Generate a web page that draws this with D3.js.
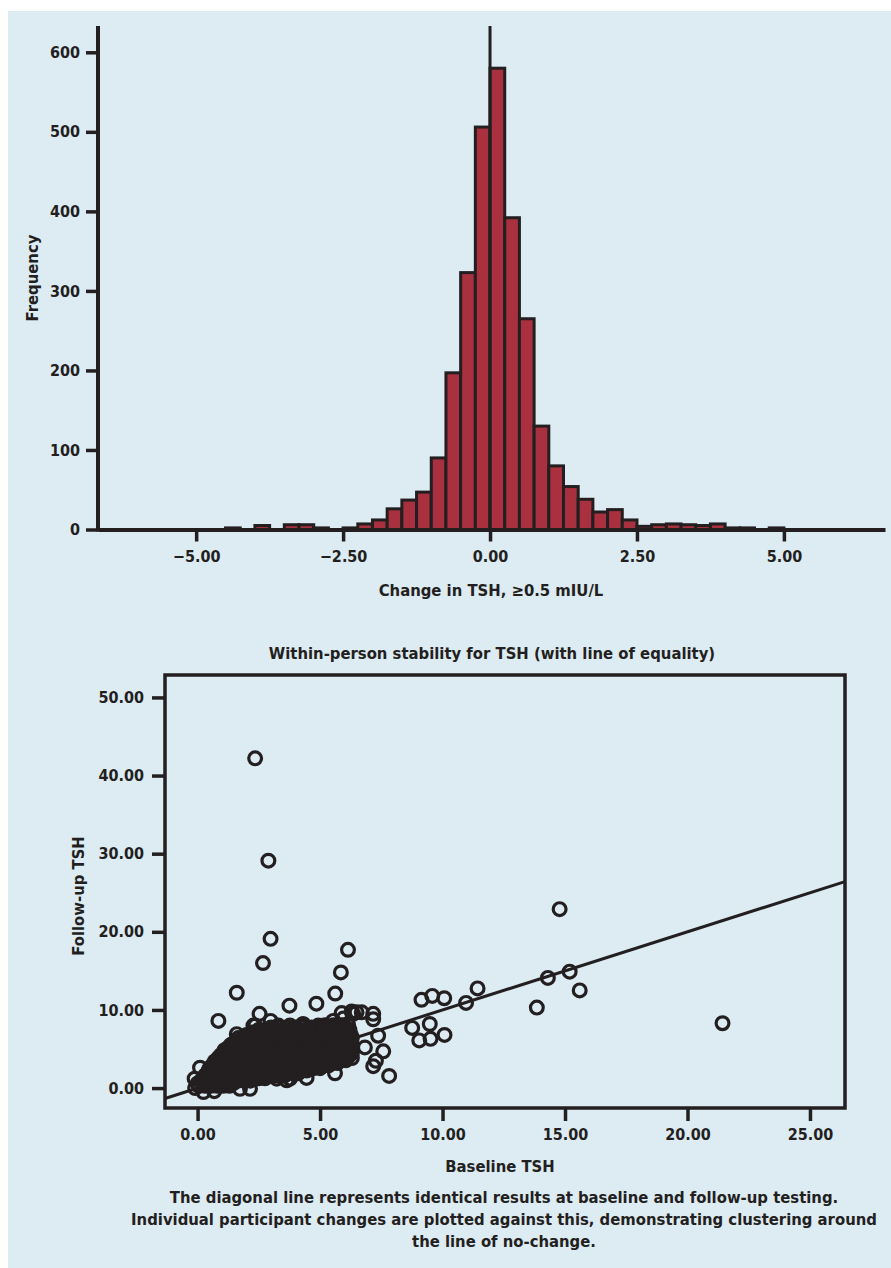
<!DOCTYPE html>
<html>
<head>
<meta charset="utf-8">
<script src="https://cdn.jsdelivr.net/npm/d3@7"></script>
<style>
  body { margin: 0; background: #fff; }
  svg text { font-family: "DejaVu Sans Condensed", "DejaVu Sans", sans-serif; font-weight: bold; fill: #231f20; }
  .axis path, .axis line { stroke: #231f20; }
</style>
</head>
<body>
<svg width="891" height="1268"></svg>
<script>
// histogram: change in TSH, bins of 0.25 (left edge, count)
var binWidth = 0.25;
var binStarts = [-4.5, -4.25, -4.0, -3.75, -3.5, -3.25, -3.0, -2.75, -2.5, -2.25, -2.0, -1.75, -1.5, -1.25,
                 -1.0, -0.75, -0.5, -0.25, 0, 0.25, 0.5, 0.75, 1.0, 1.25, 1.5, 1.75, 2.0, 2.25,
                 2.5, 2.75, 3.0, 3.25, 3.5, 3.75, 4.0, 4.25, 4.5, 4.75];
var binCounts = [2, 0, 5, 0, 6, 6, 2, 0, 2, 7, 12, 26, 37, 47,
                 90, 197, 323, 506, 580, 392, 265, 130, 80, 54, 38, 22, 25, 12,
                 4, 6, 7, 6, 5, 7, 2, 2, 0, 2];
var histXTicks = [-5, -2.5, 0, 2.5, 5];
var histYTicks = [0, 100, 200, 300, 400, 500, 600];

// scatter: baseline vs follow-up TSH, outliers and edge points
var outliers = [
  [2.35, 42.2], [2.89, 29.1], [2.98, 19.1], [2.67, 16.0], [1.6, 12.2], [6.14, 17.7], [5.85, 14.8],
  [5.62, 12.1], [3.75, 10.55], [4.85, 10.8], [0.85, 8.6], [2.53, 9.5], [14.78, 22.9], [14.3, 14.1],
  [15.19, 14.9], [15.6, 12.5], [13.85, 10.3], [21.43, 8.3], [11.43, 12.76], [10.96, 10.9],
  [9.14, 11.3], [9.58, 11.8], [10.07, 11.5], [8.76, 7.7], [9.48, 8.2], [9.05, 6.1], [9.51, 6.3],
  [10.08, 6.8], [7.82, 1.55], [7.17, 2.8], [7.28, 3.5], [7.58, 4.7], [7.37, 6.7], [7.17, 9.5],
  [7.17, 8.8], [6.7, 9.7], [6.35, 9.5], [5.88, 9.6], [6.49, 9.7], [6.29, 9.8], [6.83, 5.2],
  [3.77, 1.2], [4.45, 1.3], [5.61, 1.9], [3.23, 1.2], [3.64, 1.0], [1.73, -0.1], [2.14, -0.1],
  [0.24, -0.5], [0.68, -0.4], [-0.1, 0.0], [-0.12, 1.2], [0.1, 2.6], [0.7, 3.4], [1.26, 5.0],
  [1.6, 6.9], [1.66, 6.4], [2.28, 8.0], [2.98, 8.6], [3.3, 8.0], [3.77, 8.0], [4.28, 8.1],
  [4.93, 8.0], [5.54, 8.6], [5.95, 8.9], [2.35, 8.0], [4.31, 8.2]
];
// dense cluster near the line, row by row (follow-up value, baseline values)
var clusterRows = [
  [0.3,  [0.05, 0.3, 0.55, 0.8, 1.05, 1.3]],
  [0.6,  [0.0, 0.2, 0.45, 0.7, 0.95, 1.2, 1.45]],
  [0.95, [0.15, 0.4, 0.65, 0.9, 1.15, 1.4, 1.65, 1.9, 2.15]],
  [1.25, [0.25, 0.5, 0.75, 1.0, 1.25, 1.5, 1.75, 2.0, 2.25, 2.5, 2.75]],
  [1.6,  [0.3, 0.55, 0.8, 1.05, 1.3, 1.55, 1.8, 2.05, 2.3, 2.55, 2.8, 3.05, 3.3, 3.55]],
  [1.9,  [0.4, 0.65, 0.9, 1.15, 1.4, 1.65, 1.9, 2.15, 2.4, 2.65, 2.9, 3.15, 3.4, 3.65, 3.9, 4.1]],
  [2.25, [0.45, 0.7, 0.95, 1.2, 1.45, 1.7, 1.95, 2.2, 2.45, 2.7, 2.95, 3.2, 3.45, 3.7, 3.95, 4.2, 4.45]],
  [2.55, [0.5, 0.75, 1.0, 1.25, 1.5, 1.75, 2.0, 2.25, 2.5, 2.75, 3.0, 3.25, 3.5, 3.75, 4.0, 4.25, 4.5, 4.75, 5.0]],
  [2.9,  [0.6, 0.85, 1.1, 1.35, 1.6, 1.85, 2.1, 2.35, 2.6, 2.85, 3.1, 3.35, 3.6, 3.85, 4.1, 4.35, 4.6, 4.85, 5.1, 5.35]],
  [3.2,  [0.7, 0.95, 1.2, 1.45, 1.7, 1.95, 2.2, 2.45, 2.7, 2.95, 3.2, 3.45, 3.7, 3.95, 4.2, 4.45, 4.7, 4.95, 5.2, 5.45, 5.7]],
  [3.55, [0.8, 1.05, 1.3, 1.55, 1.8, 2.05, 2.3, 2.55, 2.8, 3.05, 3.3, 3.55, 3.8, 4.05, 4.3, 4.55, 4.8, 5.05, 5.3, 5.55, 5.8, 6.05]],
  [3.85, [0.85, 1.1, 1.35, 1.6, 1.85, 2.1, 2.35, 2.6, 2.85, 3.1, 3.35, 3.6, 3.85, 4.1, 4.35, 4.6, 4.85, 5.1, 5.35, 5.6, 5.85, 6.1, 6.3]],
  [4.2,  [0.95, 1.2, 1.45, 1.7, 1.95, 2.2, 2.45, 2.7, 2.95, 3.2, 3.45, 3.7, 3.95, 4.2, 4.45, 4.7, 4.95, 5.2, 5.45, 5.7, 5.95, 6.2]],
  [4.5,  [1.05, 1.3, 1.55, 1.8, 2.05, 2.3, 2.55, 2.8, 3.05, 3.3, 3.55, 3.8, 4.05, 4.3, 4.55, 4.8, 5.05, 5.3, 5.55, 5.8, 6.05, 6.3]],
  [4.85, [1.1, 1.35, 1.6, 1.85, 2.1, 2.35, 2.6, 2.85, 3.1, 3.35, 3.6, 3.85, 4.1, 4.35, 4.6, 4.85, 5.1, 5.35, 5.6, 5.85, 6.1, 6.3]],
  [5.15, [1.25, 1.5, 1.75, 2.0, 2.25, 2.5, 2.75, 3.0, 3.25, 3.5, 3.75, 4.0, 4.25, 4.5, 4.75, 5.0, 5.25, 5.5, 5.75, 6.0, 6.25]],
  [5.5,  [1.35, 1.6, 1.85, 2.1, 2.35, 2.6, 2.85, 3.1, 3.35, 3.6, 3.85, 4.1, 4.35, 4.6, 4.85, 5.1, 5.35, 5.6, 5.85, 6.1, 6.3]],
  [5.8,  [1.5, 1.75, 2.0, 2.25, 2.5, 2.75, 3.0, 3.25, 3.5, 3.75, 4.0, 4.25, 4.5, 4.75, 5.0, 5.25, 5.5, 5.75, 6.0, 6.25]],
  [6.15, [1.75, 2.0, 2.25, 2.5, 2.75, 3.0, 3.25, 3.5, 3.75, 4.0, 4.25, 4.5, 4.75, 5.0, 5.25, 5.5, 5.75, 6.0, 6.25]],
  [6.45, [1.9, 2.15, 2.4, 2.65, 2.9, 3.15, 3.4, 3.65, 3.9, 4.15, 4.4, 4.65, 4.9, 5.15, 5.4, 5.65, 5.9, 6.15, 6.3]],
  [6.8,  [2.0, 2.25, 2.5, 2.75, 3.0, 3.25, 3.5, 3.75, 4.0, 4.25, 4.5, 4.75, 5.0, 5.25, 5.5, 5.75, 6.0, 6.25]],
  [7.1,  [2.2, 2.45, 2.7, 2.95, 3.2, 3.45, 3.7, 3.95, 4.2, 4.45, 4.7, 4.95, 5.2, 5.45, 5.7, 5.95, 6.2]],
  [7.45, [2.5, 2.85, 3.2, 3.5, 3.8, 4.1, 4.45, 4.8, 5.1, 5.4, 5.7, 6.0, 6.2]],
  [7.75, [3.0, 3.35, 3.65, 4.0, 4.3, 4.65, 4.95, 5.25, 5.6, 5.95]],
  [8.05, [5.2, 5.55, 5.9, 6.15]]
];
var scatXTicks = [0, 5, 10, 15, 20, 25];
var scatYTicks = [0, 10, 20, 30, 40, 50];

var ink = "#231f20";
var svg = d3.select("svg");

svg.append("rect")
    .attr("x", 8).attr("y", 11)
    .attr("width", 883).attr("height", 1257)
    .attr("fill", "#ddebf3");

// ---------- histogram ----------
var hx = d3.scaleLinear().domain([-6.67, 6.72]).range([98, 885]);
var hy = d3.scaleLinear().domain([0, 600]).range([529.5, 52.3]);
var fmt = d3.format(".2f");

var hist = svg.append("g");

hist.selectAll("rect.bar")
  .data(binStarts.map(function(d, i) { return [d, binCounts[i]]; }).filter(function(d) { return d[1] > 0; }))
  .enter().append("rect")
    .attr("class", "bar")
    .attr("x", function(d) { return hx(d[0]); })
    .attr("width", function(d) { return hx(d[0] + binWidth) - hx(d[0]); })
    .attr("y", function(d) { return hy(d[1]); })
    .attr("height", function(d) { return hy(0) - hy(d[1]); })
    .attr("fill", "#a8303f")
    .attr("stroke", ink)
    .attr("stroke-width", 3);

// reference line at zero
hist.append("line")
    .attr("x1", hx(0)).attr("x2", hx(0))
    .attr("y1", 26).attr("y2", hy(0))
    .attr("stroke", ink).attr("stroke-width", 3);

var hxAxis = hist.append("g")
    .attr("class", "axis")
    .attr("transform", "translate(0," + hy(0) + ")")
    .call(d3.axisBottom(hx).tickValues(histXTicks).tickFormat(fmt).tickSize(12).tickSizeOuter(0).tickPadding(9));
hxAxis.select(".domain").attr("stroke-width", 4);
hxAxis.selectAll(".tick line").attr("stroke-width", 3.5);
hxAxis.selectAll("text").style("font-size", "16px");

var hyAxis = hist.append("g")
    .attr("class", "axis")
    .attr("transform", "translate(" + hx.range()[0] + ",0)")
    .call(d3.axisLeft(hy).tickValues(histYTicks).tickSize(12).tickSizeOuter(0).tickPadding(6));
hyAxis.select(".domain").attr("d", "M0," + (hy(0) + 2) + "V26").attr("stroke-width", 4);
hyAxis.selectAll(".tick line").attr("stroke-width", 3.5);
hyAxis.selectAll("text").style("font-size", "16px");

hist.append("text")
    .attr("transform", "translate(38,278) rotate(-90)")
    .attr("text-anchor", "middle")
    .style("font-size", "16.5px")
    .text("Frequency");

hist.append("text")
    .attr("x", 491).attr("y", 596)
    .attr("text-anchor", "middle")
    .style("font-size", "16.5px")
    .text("Change in TSH, ≥0.5 mIU/L");

// ---------- scatter ----------
var sx = d3.scaleLinear().domain([-1.33, 26.43]).range([165, 845]);
var sy = d3.scaleLinear().domain([-2.55, 52.87]).range([1108, 675]);

var scat = svg.append("g");

scat.append("text")
    .attr("x", 492).attr("y", 659)
    .attr("text-anchor", "middle")
    .style("font-size", "16.5px")
    .text("Within-person stability for TSH (with line of equality)");

var sxAxis = scat.append("g")
    .attr("class", "axis")
    .attr("transform", "translate(0," + sy.range()[0] + ")")
    .call(d3.axisBottom(sx).tickValues(scatXTicks).tickFormat(fmt).tickSize(13).tickSizeOuter(0).tickPadding(8));
sxAxis.select(".domain").remove();
sxAxis.selectAll(".tick line").attr("stroke-width", 3.5);
sxAxis.selectAll("text").style("font-size", "16px");

var syAxis = scat.append("g")
    .attr("class", "axis")
    .attr("transform", "translate(" + sx.range()[0] + ",0)")
    .call(d3.axisLeft(sy).tickValues(scatYTicks).tickFormat(fmt).tickSize(13).tickSizeOuter(0).tickPadding(8));
syAxis.select(".domain").remove();
syAxis.selectAll(".tick line").attr("stroke-width", 3.5);
syAxis.selectAll("text").style("font-size", "16px");

var points = outliers.slice();
clusterRows.forEach(function(r) {
  r[1].forEach(function(b) { points.push([b, r[0]]); });
});

var lo = sx.domain()[0], hi = sx.domain()[1];
scat.append("line")
    .attr("x1", sx(lo)).attr("y1", sy(lo))
    .attr("x2", sx(hi)).attr("y2", sy(hi))
    .attr("stroke", ink).attr("stroke-width", 3);

scat.selectAll("circle")
  .data(points)
  .enter().append("circle")
    .attr("cx", function(d) { return sx(d[0]); })
    .attr("cy", function(d) { return sy(d[1]); })
    .attr("r", 6.4)
    .attr("fill", "none")
    .attr("stroke", ink)
    .attr("stroke-width", 3.2);

scat.append("rect")
    .attr("x", sx.range()[0]).attr("y", sy.range()[1])
    .attr("width", sx.range()[1] - sx.range()[0])
    .attr("height", sy.range()[0] - sy.range()[1])
    .attr("fill", "none")
    .attr("stroke", ink)
    .attr("stroke-width", 3.5);

scat.append("text")
    .attr("transform", "translate(84,896) rotate(-90)")
    .attr("text-anchor", "middle")
    .style("font-size", "16.5px")
    .text("Follow-up TSH");

scat.append("text")
    .attr("x", 500).attr("y", 1172)
    .attr("text-anchor", "middle")
    .style("font-size", "16.5px")
    .text("Baseline TSH");

var caption = [
  "The diagonal line represents identical results at baseline and follow-up testing.",
  "Individual participant changes are plotted against this, demonstrating clustering around",
  "the line of no-change."
];
scat.selectAll("text.caption")
  .data(caption)
  .enter().append("text")
    .attr("class", "caption")
    .attr("x", 504)
    .attr("y", function(d, i) { return 1203 + i * 22; })
    .attr("text-anchor", "middle")
    .style("font-size", "16.5px")
    .text(function(d) { return d; });
</script>
</body>
</html>
